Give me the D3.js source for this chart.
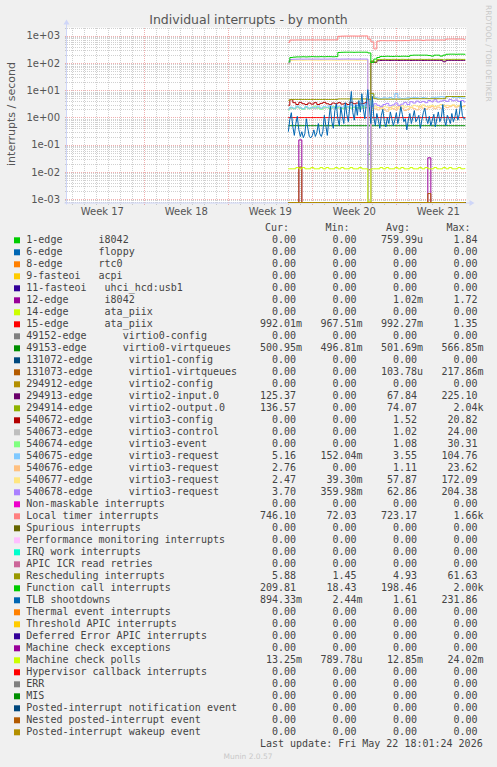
<!DOCTYPE html>
<html><head><meta charset="utf-8">
<script src="https://cdn.jsdelivr.net/npm/d3@7"></script>
<style>
body{margin:0;background:#F0F0F0;}
svg{display:block;}
text{white-space:pre;}
</style></head><body>
<svg id="c" width="497" height="767"></svg>
<script>
// ---------------- DATA ----------------
const titleText = "Individual interrupts - by month";
const yAxisTitle = "interrupts / second";
const yTickValues = [1e3, 1e2, 1e1, 1e0, 1e-1, 1e-2, 1e-3];
const yTickLabels = ["1e+03", "1e+02", "1e+01", "1e+00", "1e-01", "1e-02", "1e-03"];
const xDomain = [new Date(Date.UTC(2026, 3, 20, 12, 20)), new Date(Date.UTC(2026, 4, 23, 20, 20))];
const yDomain = [7.53e-4, 2023];
const seriesStart = Date.UTC(2026, 4, 9, 0, 0);
const stepHours = 6;
const tlbStepHours = 3;

const legendLabels = [
  "1-edge      i8042", "6-edge      floppy", "8-edge      rtc0", "9-fasteoi   acpi",
  "11-fasteoi   uhci_hcd:usb1", "12-edge      i8042", "14-edge      ata_piix", "15-edge      ata_piix",
  "49152-edge      virtio0-config", "49153-edge      virtio0-virtqueues",
  "131072-edge      virtio1-config", "131073-edge      virtio1-virtqueues",
  "294912-edge      virtio2-config", "294913-edge      virtio2-input.0", "294914-edge      virtio2-output.0",
  "540672-edge      virtio3-config", "540673-edge      virtio3-control", "540674-edge      virtio3-event",
  "540675-edge      virtio3-request", "540676-edge      virtio3-request", "540677-edge      virtio3-request",
  "540678-edge      virtio3-request",
  "Non-maskable interrupts", "Local timer interrupts", "Spurious interrupts",
  "Performance monitoring interrupts", "IRQ work interrupts", "APIC ICR read retries",
  "Rescheduling interrupts", "Function call interrupts", "TLB shootdowns",
  "Thermal event interrupts", "Threshold APIC interrupts", "Deferred Error APIC interrupts",
  "Machine check exceptions", "Machine check polls", "Hypervisor callback interrupts",
  "ERR", "MIS", "Posted-interrupt notification event", "Nested posted-interrupt event",
  "Posted-interrupt wakeup event"
];
const legendColors = ["#00CC00","#0066B3","#FF8000","#FFCC00","#330099","#990099","#CCFF00","#FF0000",
  "#808080","#008F00","#00487D","#B35A00","#B38F00","#6B006B","#8FB300","#B30000","#BEBEBE","#80FF80",
  "#80C9FF","#FFC080","#FFE680","#AA80FF","#EE00CC","#FF8080","#666600","#FFBFFF","#00FFCC","#CC6699",
  "#999900","#00CC00","#0066B3","#FF8000","#FFCC00","#330099","#990099","#CCFF00","#FF0000","#808080",
  "#008F00","#00487D","#B35A00","#B38F00"];
const curVals = ["0.00","0.00","0.00","0.00","0.00","0.00","0.00","992.01m","0.00","500.95m","0.00","0.00",
  "0.00","125.37","136.57","0.00","0.00","0.00","5.16","2.76","2.47","3.70","0.00","746.10","0.00","0.00",
  "0.00","0.00","5.88","209.81","894.33m","0.00","0.00","0.00","0.00","13.25m","0.00","0.00","0.00","0.00","0.00","0.00"];
const minVals = ["0.00","0.00","0.00","0.00","0.00","0.00","0.00","967.51m","0.00","496.81m","0.00","0.00",
  "0.00","0.00","0.00","0.00","0.00","0.00","152.04m","0.00","39.30m","359.98m","0.00","72.03","0.00","0.00",
  "0.00","0.00","1.45","18.43","2.44m","0.00","0.00","0.00","0.00","789.78u","0.00","0.00","0.00","0.00","0.00","0.00"];
const avgVals = ["759.99u","0.00","0.00","0.00","0.00","1.02m","0.00","992.27m","0.00","501.69m","0.00","103.78u",
  "0.00","67.84","74.07","1.52","1.02","1.08","3.55","1.11","57.87","62.86","0.00","723.17","0.00","0.00",
  "0.00","0.00","4.93","198.46","1.61","0.00","0.00","0.00","0.00","12.85m","0.00","0.00","0.00","0.00","0.00","0.00"];
const maxVals = ["1.84","0.00","0.00","0.00","0.00","1.72","0.00","1.35","0.00","566.85m","0.00","217.86m",
  "0.00","225.10","2.04k","20.82","24.00","30.31","104.76","23.62","172.09","204.38","0.00","1.66k","0.00","0.00",
  "0.00","0.00","61.63","2.00k","231.86","0.00","0.00","0.00","0.00","24.02m","0.00","0.00","0.00","0.00","0.00","0.00"];
const lastUpdate = "Last update: Fri May 22 18:01:24 2026";
const muninVersion = "Munin 2.0.57";
const watermark = "RRDTOOL / TOBI OETIKER";

// series values (6h steps from seriesStart; TLB uses 3h steps)
const ZERO = [0,0,0,0,0,0,0,0,0,0, 0,0,0,0,0,0,0,0,0,0, 0,0,0,0,0,0,0,0,0,0,
  0,0,0,0,0,0,0,0,0,0, 0,0,0,0,0,0,0,0,0,0, 0,0,0,0,0,0,0,0,0,0];
const s1edge = [0,0,0,0,0,0,0,0,0,0, 0,0,0,0,0,0,0,0,0,0, 0,0,0,0,0,0,0,0.045,0,0,
  0,0,0,0,0,0,0,0,0,0, 0,0,0,0,0,0,0,0,0,0, 0,0,0,0,0,0,0,0,0,0];
const s12edge = [0,0,0,0,0.15,0,0,0,0,0, 0,0,0,0,0,0,0,0,0,0, 0,0,0,0,0,0,0,0,0,0,
  0,0,0,0,0,0,0,0,0,0, 0,0,0,0,0,0,0,0.033,0,0, 0,0,0,0,0,0,0,0,0,0];
const s15edge = [1.0,0.99,0.99,0.99,0.99,0.99,0.99,0.99,0.99,0.99, 0.99,0.99,0.99,0.99,0.99,0.99,0.99,0.99,0.99,0.99,
  0.99,0.99,0.99,0.99,0.99,0.99,0.99,0.99,0.99,0.99, 0.99,0.99,0.99,0.99,0.99,0.99,0.99,0.99,0.99,0.99,
  0.99,0.99,0.99,0.99,0.99,0.99,0.99,0.99,0.99,0.99, 0.99,0.99,0.99,0.99,0.99,0.99,0.99,0.99,0.99,0.99];
const sVirtio0q = [0.5,0.5,0.5,0.5,0.5,0.5,0.5,0.5,0.5,0.5, 0.5,0.5,0.5,0.5,0.5,0.5,0.5,0.5,0.5,0.5,
  0.5,0.5,0.5,0.5,0.5,0.5,0.5,0.5,0.5,0.5, 0.5,0.5,0.5,0.5,0.5,0.5,0.5,0.5,0.5,0.5,
  0.5,0.5,0.5,0.5,0.5,0.5,0.5,0.5,0.5,0.5, 0.5,0.5,0.5,0.5,0.5,0.5,0.5,0.5,0.5,0.5];
const s131073 = [0,0,0,0,0.015,0,0,0,0,0, 0,0,0,0,0,0,0,0,0,0, 0,0,0,0,0,0,0,0.012,0,0,
  0,0,0,0,0,0,0,0,0,0, 0,0,0,0,0,0,0,0.0016,0,0, 0,0,0,0,0,0,0,0,0,0];
const sVirtio2in = [0,0,0,0,0,0,0,0,0,0, 0,0,0,0,0,0,0,0,0,0, 0,0,0,0,0,0,0,0,112,105,
  122,124,125,125,124,125,125,124,125,125, 125,124,125,125,125,124,125,125,125,125,
  125,125,112,125,125,125,125,125,125,125];
const sVirtio2out = [0,0,0,0,0,0,0,0,0,0, 0,0,0,0,0,0,0,0,0,0, 0,0,0,0,0,0,0,0,120,110,
  134,136,137,136,136,137,136,136,137,136, 136,137,136,136,137,136,136,137,136,136,
  137,136,130,137,136,137,136,137,136,136.6];
const s540672 = [2.8,4.5,3.5,3.0,3.6,3.2,3.0,3.4,3.1,3.5, 3.0,3.3,3.6,3.2,3.0,3.4,3.2,3.5,3.1,3.3,
  3.0,3.6,3.2,3.4,3.1,3.3,3.5,0,0,0, 0,0,0,0,0,0,0,0,0,0, 0,0,0,0,0,0,0,0,0,0, 0,0,0,0,0,0,0,0,0,0];
const s540673 = [2.0,2.2,2.1,2.3,2.2,2.1,2.3,2.2,2.2,2.1, 2.3,2.2,2.2,2.3,2.1,2.2,2.3,2.2,2.2,2.1,
  2.3,2.2,2.3,2.2,2.1,2.2,2.3,0,0,0, 0,0,0,0,0,0,0,0,0,0, 0,0,0,0,0,0,0,0,0,0, 0,0,0,0,0,0,0,0,0,0];
const s540674 = [1.9,2.3,2.1,2.5,2.2,2.0,2.4,2.1,2.3,2.6, 2.2,2.0,2.4,2.3,2.1,2.5,2.2,2.4,2.1,2.3,
  2.5,2.2,2.4,2.3,2.2,2.5,2.3,0,0,0, 0,0,0,0,0,0,0,0,0,0, 0,0,0,0,0,0,0,0,0,0, 0,0,0,0,0,0,0,0,0,0];
const s540675 = [2.0,2.4,2.2,2.6,2.3,2.1,2.5,2.2,2.4,2.3, 2.6,2.2,2.5,2.4,2.8,2.3,2.5,2.6,2.4,2.7,
  2.5,2.9,2.6,2.8,3.0,2.7,3.2,0,7.0,5.5, 5.2,5.0,5.3,5.1,5.4,5.0,7.5,5.2,5.0,5.1,
  5.3,5.2,5.5,5.3,5.1,5.4,5.2,5.0,5.3,5.5, 5.6,5.8,5.6,5.7,5.9,5.5,5.6,5.4,5.2,5.16];
const s540676 = [0,0,0,0,0,0,0,0,0,0, 0,0,0,0,0,0,0,0,0,0, 0,0,0,0,0,0,0,0,1.8,2.2,
  1.9,2.4,2.0,1.7,2.3,2.1,1.9,2.5,2.2,1.8, 2.0,2.4,2.1,1.9,2.6,2.2,2.0,2.3,2.5,2.1,
  2.4,2.2,2.7,2.3,2.5,2.8,2.4,2.6,2.5,2.76];
const s540677 = [95,125,127,128,128,127,128,129,128,128, 127,128,128,129,128,128,127,128,128,129,
  128,128,128,127,128,128,128,0,2.2,2.6, 2.3,2.1,2.5,2.4,2.0,2.6,2.3,2.2,2.7,2.4,
  2.5,2.3,2.8,2.6,2.4,2.9,2.5,2.6,2.8,2.5, 2.7,3.0,2.6,2.8,2.7,2.9,2.6,2.8,2.5,2.47];
const s540678 = [100,136,138,139,140,139,140,140,139,140, 140,139,140,140,141,140,140,139,140,140,
  141,140,140,139,140,140,140,0,2.6,3.2, 2.8,2.5,3.0,3.3,2.7,2.9,3.4,2.8,3.1,3.6,
  3.0,3.8,3.4,4.0,3.6,3.9,3.5,4.2,3.8,4.5, 3.7,4.0,4.3,3.9,4.6,4.1,4.4,3.9,4.2,3.70];
const sLocalTimer = [576,700,700,705,705,710,705,710,710,705, 710,710,705,710,710,710,712,960,975,980,
  980,985,985,980,985,990,990,760,600,330, 640,665,665,660,665,665,660,665,665,670,
  665,700,700,705,700,680,700,700,705,700, 700,705,700,760,765,765,760,765,765,746];
const sResched = [4.3,4.6,4.6,4.6,4.6,4.6,4.6,4.6,4.6,4.6, 4.6,4.6,4.6,4.6,4.6,4.6,4.6,4.8,4.8,4.8,
  4.8,4.8,4.8,4.8,4.8,4.8,4.8,4.5,7.5,4.9, 4.7,4.7,4.7,4.7,4.7,4.7,4.7,4.7,4.7,4.7,
  4.7,4.9,4.9,4.9,4.9,4.9,4.9,4.9,4.9,4.9, 4.9,4.9,4.9,5.9,5.9,5.9,5.9,5.9,5.9,5.88];
const sFunctionCall = [110,160,165,168,168,170,168,170,172,170, 170,172,170,172,172,170,172,245,248,250,
  250,250,248,250,250,250,250,235,105,140, 160,175,175,178,176,175,178,176,178,178,
  176,192,195,195,195,195,195,190,180,195, 195,180,195,210,212,212,210,212,212,210];
const sTLB = [0.30,0.85,1.5,0.45,0.22,0.6,1.1,0.35,0.2,0.3,
  0.18,0.25,0.9,0.4,0.2,0.18,0.22,0.35,0.2,0.28,
  0.6,0.25,0.2,0.3,1.2,0.5,0.22,0.8,2.6,0.7,
  0.4,1.8,3.2,0.9,0.5,2.4,1.1,0.6,3.5,1.3,
  0.7,2.8,9.0,1.5,0.8,3.0,1.2,4.2,1.6,7.5,
  2.0,0.9,3.5,10.5,2.5,0.6,6.0,1.0,0.5,1.4,
  0.8,0.4,1.2,2.0,0.7,0.45,1.0,0.6,1.6,0.9,
  0.5,0.8,1.5,0.6,1.1,2.5,1.3,0.7,0.9,0.35,
  0.8,1.4,0.6,1.0,1.8,0.7,0.9,1.2,0.4,0.8,
  1.5,2.2,0.9,0.6,1.1,0.5,0.8,1.3,0.45,0.9,
  1.6,0.7,1.0,3.0,0.8,0.5,1.2,0.9,0.6,1.4,
  0.7,1.0,2.0,0.8,1.3,4.0,1.2,0.9,0.89];
const sMCPolls = [0.0130,0.0130,0.0130,0.0145,0.0130,0.0145,0.0130,0.0130,0.0145,0.0130,
  0.0130,0.0145,0.0130,0.0145,0.0130,0.0130,0.0145,0.0130,0.0145,0.0130,
  0.0130,0.0145,0.0130,0.0130,0.0145,0.0130,0.0130,0.0008,0.0130,0.0130,
  0.0130,0.0145,0.0130,0.0145,0.0130,0.0130,0.0145,0.0130,0.0145,0.0130,
  0.0130,0.0145,0.0130,0.0130,0.0145,0.0130,0.0145,0.0130,0.0130,0.0145,
  0.0130,0.0130,0.0145,0.0130,0.0145,0.0130,0.0130,0.0145,0.0130,0.0132];

const seriesValues = [s1edge, ZERO, ZERO, ZERO, ZERO, s12edge, ZERO, s15edge, ZERO, sVirtio0q,
  ZERO, s131073, ZERO, sVirtio2in, sVirtio2out, s540672, s540673, s540674, s540675, s540676,
  s540677, s540678, ZERO, sLocalTimer, ZERO, ZERO, ZERO, ZERO, sResched, sFunctionCall,
  sTLB, ZERO, ZERO, ZERO, ZERO, sMCPolls, ZERO, ZERO, ZERO, ZERO, ZERO, ZERO];

// ---------------- LAYOUT ----------------
const W = 497, H = 767;
const plot = {left: 66.5, top: 27.5, width: 400, height: 175};
const svg = d3.select("#c");
const sans = "'DejaVu Sans', Verdana, sans-serif";
const mono = "'DejaVu Sans Mono', monospace";
const fontColor = "#555555";

svg.append("rect").attr("width", W).attr("height", H).attr("fill", "#F0F0F0");
svg.append("rect").attr("x", plot.left).attr("y", plot.top).attr("width", plot.width).attr("height", plot.height).attr("fill", "#FFFFFF");

const x = d3.scaleUtc().domain(xDomain).range([plot.left, plot.left + plot.width]);
const y = d3.scaleLog().domain(yDomain).range([plot.top + plot.height, plot.top]);
const yBottom = plot.top + plot.height;

// grid
const gridG = svg.append("g").attr("shape-rendering", "crispEdges");
const minorColor = "rgba(143,143,143,0.42)";
const majorColor = "rgba(222,79,79,0.45)";
for (let k = -4; k <= 3; k++) {
  for (let m = 2; m <= 9; m++) {
    const v = m * Math.pow(10, k);
    if (v < yDomain[0] || v > yDomain[1]) continue;
    const yy = Math.round(y(v)) + 0.5;
    gridG.append("line").attr("x1", plot.left - 2).attr("x2", plot.left + plot.width).attr("y1", yy).attr("y2", yy)
      .attr("stroke", minorColor).attr("stroke-dasharray", "1,1");
  }
}
const days = d3.utcDay.range(xDomain[0], xDomain[1]);
days.forEach(d => {
  if (d.getUTCDay() === 1) return;
  const xx = Math.round(x(d)) + 0.5;
  gridG.append("line").attr("x1", xx).attr("x2", xx).attr("y1", plot.top).attr("y2", yBottom + 2)
    .attr("stroke", minorColor).attr("stroke-dasharray", "1,1");
});
yTickValues.forEach(v => {
  const yy = Math.round(y(v)) + 0.5;
  gridG.append("line").attr("x1", plot.left - 2).attr("x2", plot.left + plot.width).attr("y1", yy).attr("y2", yy)
    .attr("stroke", majorColor).attr("stroke-dasharray", "1,1");
});
const weeks = d3.utcMonday.range(xDomain[0], xDomain[1]);
weeks.forEach(d => {
  const xx = Math.round(x(d)) + 0.5;
  gridG.append("line").attr("x1", xx).attr("x2", xx).attr("y1", plot.top).attr("y2", yBottom + 2)
    .attr("stroke", majorColor).attr("stroke-dasharray", "1,1");
});

// axes (rrdtool style)
const axisColor = "#CFD6F8";
svg.append("line").attr("x1", plot.left - 2).attr("x2", plot.left + plot.width + 4).attr("y1", yBottom + 0.5).attr("y2", yBottom + 0.5).attr("stroke", axisColor);
svg.append("path").attr("d", `M${plot.left + plot.width + 3},${yBottom - 2.5}L${plot.left + plot.width + 8},${yBottom + 0.5}L${plot.left + plot.width + 3},${yBottom + 3.5}Z`).attr("fill", axisColor);
svg.append("line").attr("x1", plot.left).attr("x2", plot.left).attr("y1", yBottom + 2).attr("y2", plot.top - 4).attr("stroke", axisColor);
svg.append("path").attr("d", `M${plot.left - 3},${plot.top - 3}L${plot.left},${plot.top - 8}L${plot.left + 3},${plot.top - 3}Z`).attr("fill", axisColor);

// data lines
svg.append("clipPath").attr("id", "clip").append("rect")
  .attr("x", plot.left).attr("y", plot.top - 1).attr("width", plot.width).attr("height", plot.height + 2);
const yVal = d => (d.v > 0 ? Math.min(y(d.v), yBottom) : yBottom);
const stepLine = d3.line().x(d => x(d.t)).y(yVal).curve(d3.curveStep);
const linLine = d3.line().x(d => x(d.t)).y(yVal);
const linesG = svg.append("g").attr("clip-path", "url(#clip)");
seriesValues.forEach((vals, i) => {
  const isTLB = vals === sTLB;
  const step = (isTLB ? tlbStepHours : stepHours) * 3600e3;
  const pts = vals.map((v, j) => ({t: new Date(seriesStart + j * step), v}));
  linesG.append("path").datum(pts).attr("d", isTLB ? linLine : stepLine)
    .attr("fill", "none").attr("stroke", legendColors[i]).attr("stroke-width", 1);
});

// y tick labels
yTickValues.forEach((v, i) => {
  svg.append("text").attr("x", 60).attr("y", y(v) + 3.6).attr("text-anchor", "end")
    .attr("font-family", sans).attr("font-size", 10).attr("fill", fontColor).text(yTickLabels[i]);
});
// x labels (centred in each ISO week)
weeks.concat([d3.utcMonday.floor(xDomain[0])]).forEach(d => {
  const c = new Date(d.getTime() + 3.5 * 86400e3);
  const xx = x(c);
  if (xx < plot.left || xx > plot.left + plot.width) return;
  svg.append("text").attr("x", xx).attr("y", 215).attr("text-anchor", "middle")
    .attr("font-family", sans).attr("font-size", 10).attr("fill", fontColor)
    .text("Week " + d3.utcFormat("%V")(d));
});

// title & axis title
svg.append("text").attr("x", 248.5).attr("y", 23.5).attr("text-anchor", "middle")
  .attr("font-family", sans).attr("font-size", 12.5).attr("fill", fontColor).text(titleText);
svg.append("text").attr("transform", "translate(14.5,114) rotate(-90)").attr("text-anchor", "middle")
  .attr("font-family", sans).attr("font-size", 11).attr("fill", fontColor).text(yAxisTitle);
svg.append("text").attr("transform", "translate(485.5,5) rotate(90)").attr("text-anchor", "start")
  .attr("font-family", sans).attr("font-size", 7.5).attr("fill", "#C8C8C8").text(watermark);

// legend
const legendG = svg.append("g").attr("font-family", mono).attr("font-size", 10).attr("fill", "#444444");
const colStarts = [260, 320.5, 381, 441.5];
["Cur:", "Min:", "Avg:", "Max:"].forEach((h, i) => {
  legendG.append("text").attr("x", colStarts[i] + 29).attr("y", 231.3).attr("text-anchor", "end").text(h);
});
function fmt(s) {
  const m = s.match(/^([0-9.]+)([a-zA-Z]?)$/);
  return m[1].padStart(6, " ") + (m[2] || " ");
}
legendLabels.forEach((lab, i) => {
  const base = 243.3 + 12 * i;
  legendG.append("rect").attr("x", 14).attr("y", base - 6).attr("width", 6).attr("height", 6).attr("fill", legendColors[i]);
  legendG.append("text").attr("x", 26.3).attr("y", base).text(lab);
  [curVals, minVals, avgVals, maxVals].forEach((arr, c) => {
    legendG.append("text").attr("x", colStarts[c]).attr("y", base).text(fmt(arr[i]));
  });
});
legendG.append("text").attr("x", 482.7).attr("y", 747.3).attr("text-anchor", "end").text(lastUpdate);
svg.append("text").attr("x", 248).attr("y", 758.5).attr("text-anchor", "middle")
  .attr("font-family", sans).attr("font-size", 7.5).attr("fill", "#C8C8C8").text(muninVersion);
</script></body></html>
